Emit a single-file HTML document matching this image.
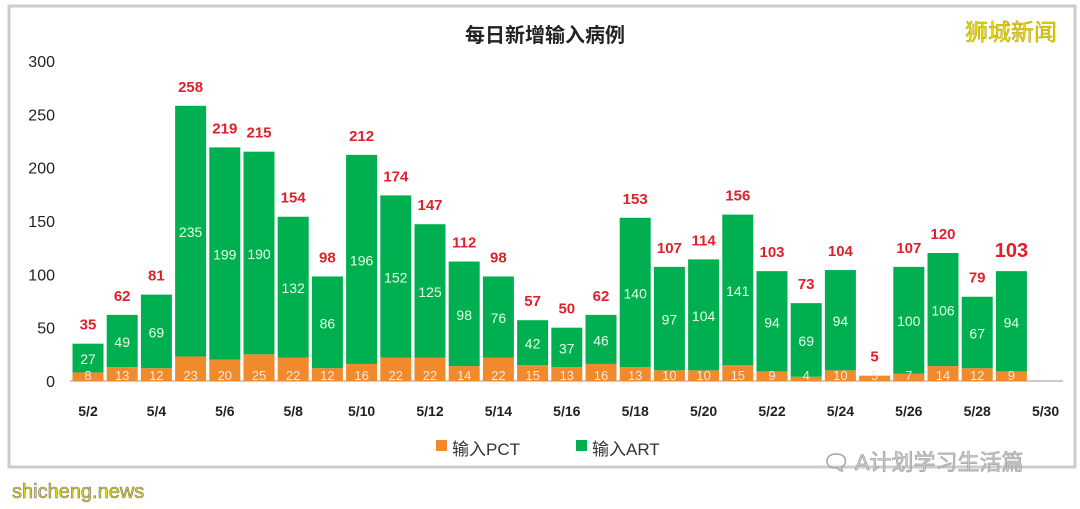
<!DOCTYPE html>
<html><head><meta charset="utf-8"><style>
body{margin:0;background:#fff;}
svg{display:block;font-family:"Liberation Sans","Noto Sans CJK SC",sans-serif;}
</style></head><body>
<svg id="s" width="1080" height="509" xmlns="http://www.w3.org/2000/svg">
<rect x="0" y="0" width="1080" height="509" fill="#fff"/>
<rect x="9" y="6" width="1066" height="461" fill="#fff" stroke="#c8cfc8" stroke-width="3"/>
<text x="545" y="42" text-anchor="middle" font-size="20" font-weight="bold" fill="#222">每日新增输入病例</text>
<rect x="955" y="14" width="112" height="34" fill="#fff"/>
<text x="1011" y="40" text-anchor="middle" font-size="23" fill="#e8d800" stroke="#b0a000" stroke-width="0.5">狮城新闻</text>
<g id="g"></g>
<rect x="436" y="440" width="11" height="11" fill="#f08a2c"/>
<text x="452" y="455" font-size="17" fill="#333">输入PCT</text>
<rect x="576" y="440" width="11" height="11" fill="#00b050"/>
<text x="592" y="455" font-size="17" fill="#333">输入ART</text>
<text x="822" y="470" font-size="22" fill="#ccc" stroke="#999" stroke-width="0.6">🗨 A计划学习生活篇</text>
<text x="12" y="498" font-size="20" fill="#e8d800" stroke="#777" stroke-width="0.6">shicheng.news</text>
</svg>
<script>
var d=[[8,27],[13,49],[12,69],[23,235],[20,199],[25,190],[22,132],[12,86],[16,196],[22,152],[22,125],[14,98],[22,76],[15,42],[13,37],[16,46],[13,140],[10,97],[10,104],[15,141],[9,94],[4,69],[10,94],[5,0],[7,100],[14,106],[12,67],[9,94]];
var g=document.getElementById('g'),h='';
var y0=381,k=320/300;
for(var v=0;v<=300;v+=50){var y=y0-v*k;h+='<text x="55" y="'+(y+6)+'" text-anchor="end" font-size="16" fill="#222">'+v+'</text>';}
h+='<line x1="70" y1="381" x2="1063" y2="381" stroke="#999" stroke-width="1"/>';
for(var i=0;i<d.length;i++){
 var cx=88+i*34.2,x=cx-15.5,w=31,p=d[i][0],a=d[i][1],t=p+a;
 var yp=y0-p*k,ya=yp-a*k;
 h+='<rect x="'+x+'" y="'+yp+'" width="'+w+'" height="'+(p*k)+'" fill="#f08a2c"/>';
 if(a>0){h+='<rect x="'+x+'" y="'+ya+'" width="'+w+'" height="'+(a*k)+'" fill="#00b050"/>';
  h+='<text x="'+cx+'" y="'+((ya+yp)/2+6)+'" text-anchor="middle" font-size="14" fill="#e8ffe8">'+a+'</text>';}
 h+='<text x="'+cx+'" y="'+(y0-1)+'" text-anchor="middle" font-size="13" fill="#fde8d8">'+p+'</text>';
 var last=i==d.length-1;
 h+='<text x="'+cx+'" y="'+(ya-14)+'" text-anchor="middle" font-size="'+(last?20:15)+'" font-weight="bold" fill="#e0202a">'+t+'</text>';
}
for(var j=0;j<15;j++){var cx=88+j*2*34.2;h+='<text x="'+cx+'" y="416" text-anchor="middle" font-size="14" font-weight="bold" fill="#222">5/'+(2+j*2)+'</text>';}
g.innerHTML=h;
</script>
</body></html>
